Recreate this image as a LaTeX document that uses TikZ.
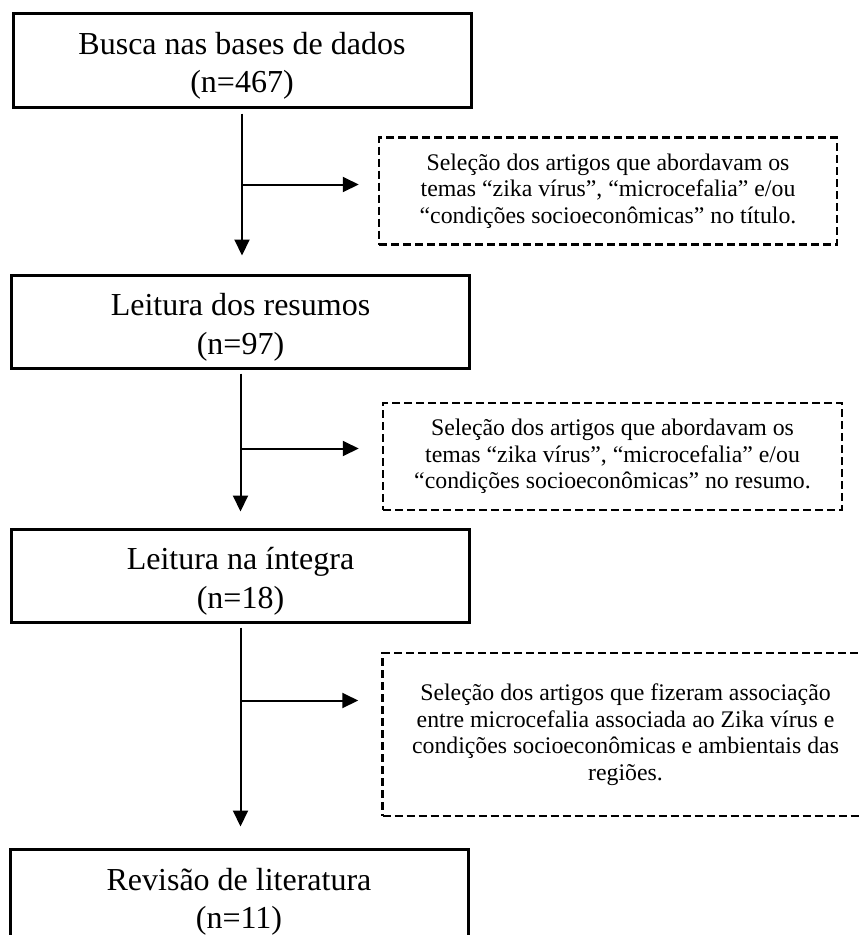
\documentclass[tikz,border=0pt]{standalone}
\usepackage{fontspec}
\setmainfont{Liberation Serif}
\usetikzlibrary{arrows.meta}

\begin{document}
\begin{tikzpicture}[x=1pt,y=-1pt,
    stagebox/.style={draw,line width=3pt,minimum width=458pt,minimum height=94pt,inner sep=0pt},
    stagetext/.style={align=center,inner sep=0pt,font=\fontsize{32}{38.5}\selectfont},
    filterbox/.style={draw,line width=2.5pt,dash pattern=on 8pt off 4pt,align=center,
      inner sep=0pt,font=\fontsize{23.8}{26.5}\selectfont},
    flow/.style={line width=2pt,-{Triangle[length=16pt,width=15pt]}}]
  \useasboundingbox (0,0) rectangle (862,935);
  \clip (0,0) rectangle (862,935);

  % Stages
  \node[stagebox] (busca) at (242,60) {};
  \node[stagebox,minimum height=93pt] (resumos) at (240.5,321.5) {};
  \node[stagebox,minimum height=93pt] (integra) at (240.5,575.5) {};
  \node[stagebox] (revisao) at (239,896) {};
  \node[stagetext] (busca-t) at ([yshift=-6pt]busca.center) {Busca nas bases de dados\\(n=467)};
  \node[stagetext] (resumos-t) at ([yshift=-6pt]resumos.center) {Leitura dos resumos\\(n=97)};
  \node[stagetext] (integra-t) at ([yshift=-6pt]integra.center) {Leitura na íntegra\\(n=18)};
  \node[stagetext] (revisao-t) at ([yshift=-6pt]revisao.center) {Revisão de literatura\\(n=11)};

  % Selection criteria
  \node[filterbox,minimum width=458pt,minimum height=107pt] (sel1) at (608,191)
    {Seleção dos artigos que abordavam os\\temas “zika vírus”, “microcefalia” e/ou\\“condições socioeconômicas” no título.};
  \node[filterbox,minimum width=459pt,minimum height=107pt] (sel2) at (612.5,456.5)
    {Seleção dos artigos que abordavam os\\temas “zika vírus”, “microcefalia” e/ou\\“condições socioeconômicas” no resumo.};
  \node[filterbox,minimum width=486pt,minimum height=163pt] (sel3) at (625.5,734.5)
    {Seleção dos artigos que fizeram associação\\entre microcefalia associada ao Zika vírus e\\condições socioeconômicas e ambientais das\\regiões.};

  % Main flow
  \draw[flow,shorten <=5pt,shorten >=18pt] (busca.south) -- (busca.south |- resumos.north);
  \draw[flow,shorten <=4pt,shorten >=16pt] (resumos.south) -- (integra.north);
  \draw[flow,shorten <=4pt,shorten >=21pt] (integra.south) -- (integra.south |- revisao.north);

  % Branches
  \path (busca.south) ++(0,76) coordinate (j1);
  \path (resumos.south) ++(0,79) coordinate (j2);
  \path (integra.south) ++(0,77) coordinate (j3);
  \draw[flow,shorten >=19pt] (j1) -- (j1 -| sel1.west);
  \draw[flow,shorten >=23pt] (j2) -- (j2 -| sel2.west);
  \draw[flow,shorten >=23pt] (j3) -- (j3 -| sel3.west);

\end{tikzpicture}
\end{document}
